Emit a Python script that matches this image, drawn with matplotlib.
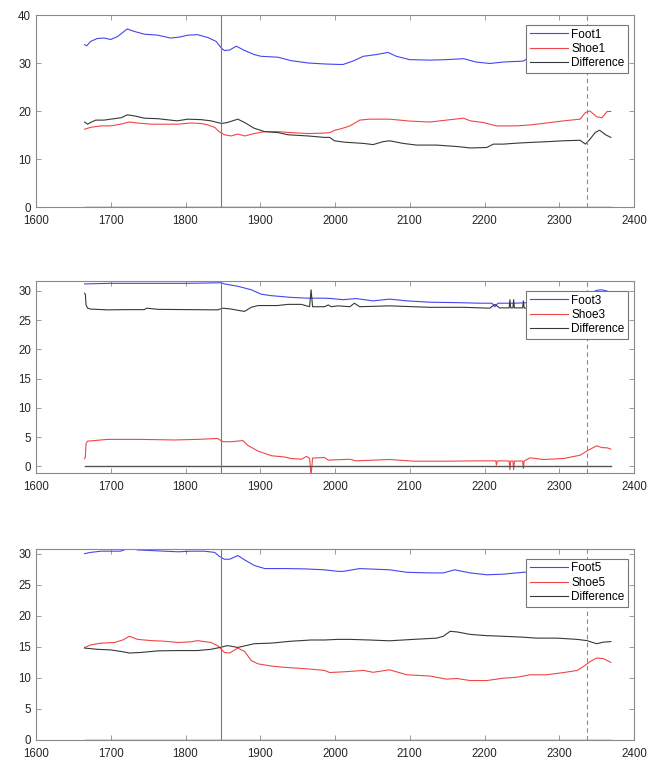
import matplotlib
matplotlib.use("Agg")
import matplotlib.pyplot as plt

plt.rcParams['font.family'] = ['Liberation Sans', 'DejaVu Sans']

# ---- panel 1 ----
x_foot1 = [1665, 1668, 1673, 1682, 1691, 1700, 1709, 1718, 1722, 1731, 1745, 1763, 1780, 1792, 1803, 1816,
           1830, 1841, 1848, 1852, 1859, 1868, 1879, 1892, 1901, 1924, 1941, 1964, 1986, 2004, 2011, 2024,
           2038, 2055, 2071, 2082, 2100, 2127, 2149, 2172, 2189, 2207, 2225, 2252, 2259, 2283, 2306, 2328,
           2341, 2350, 2355, 2369]
foot1 = [33.8, 33.6, 34.5, 35.1, 35.2, 34.9, 35.5, 36.6, 37.1, 36.6, 36.0, 35.8, 35.2, 35.4, 35.8, 35.9,
         35.3, 34.5, 33.1, 32.6, 32.7, 33.5, 32.6, 31.75, 31.4, 31.2, 30.5, 30.0, 29.8, 29.7, 29.7, 30.4,
         31.4, 31.75, 32.2, 31.4, 30.7, 30.6, 30.7, 30.9, 30.2, 29.9, 30.2, 30.4, 31.1, 31.1, 31.75, 32.2,
         33.3, 34.5, 34.8, 34.4]
x_shoe1 = [1665, 1673, 1687, 1700, 1713, 1725, 1736, 1754, 1772, 1790, 1807, 1821, 1830, 1839, 1845, 1852,
           1861, 1870, 1879, 1892, 1906, 1924, 1941, 1964, 1986, 1993, 2000, 2008, 2020, 2033, 2046, 2073,
           2100, 2127, 2149, 2172, 2181, 2198, 2216, 2243, 2261, 2283, 2306, 2328, 2335, 2341, 2350, 2357,
           2364, 2369]
shoe1 = [16.2, 16.6, 16.9, 16.9, 17.25, 17.7, 17.5, 17.25, 17.25, 17.25, 17.5, 17.4, 17.1, 16.6, 15.7, 15.05,
         14.8, 15.2, 14.8, 15.3, 15.7, 15.7, 15.5, 15.3, 15.4, 15.5, 16.0, 16.3, 16.9, 18.1, 18.3, 18.3,
         17.9, 17.7, 18.1, 18.5, 17.95, 17.6, 16.9, 16.9, 17.1, 17.5, 17.95, 18.3, 19.7, 20.0, 18.8, 18.6,
         19.9, 19.9]
x_diff1 = [1665, 1669, 1673, 1680, 1691, 1700, 1714, 1722, 1731, 1745, 1763, 1780, 1789, 1803, 1821, 1834,
           1848, 1856, 1870, 1879, 1892, 1906, 1924, 1937, 1964, 1986, 1993, 1999, 2013, 2038, 2051, 2064,
           2073, 2091, 2109, 2136, 2163, 2181, 2203, 2212, 2225, 2243, 2261, 2283, 2306, 2328, 2335, 2341,
           2348, 2354, 2362, 2369]
diff1 = [17.7, 17.25, 17.6, 18.1, 18.1, 18.3, 18.6, 19.2, 19.0, 18.5, 18.4, 18.1, 17.95, 18.3, 18.2, 17.95,
         17.4, 17.6, 18.3, 17.6, 16.4, 15.7, 15.5, 15.05, 14.8, 14.5, 14.5, 13.8, 13.5, 13.25, 13.0, 13.6,
         13.8, 13.25, 12.9, 12.9, 12.6, 12.3, 12.4, 13.1, 13.1, 13.3, 13.45, 13.6, 13.8, 13.9, 13.1, 14.1,
         15.5, 16.0, 15.05, 14.5]

# ---- panel 2 ----
x_foot3 = [1665, 1700, 1750, 1800, 1848, 1852, 1870, 1888, 1901, 1914, 1941, 1964, 1986, 1995, 2011, 2028,
           2051, 2073, 2096, 2127, 2163, 2194, 2210, 2214, 2218, 2240, 2261, 2300, 2328, 2340, 2350, 2357, 2369]
foot3 = [31.2, 31.3, 31.3, 31.3, 31.4, 31.2, 30.8, 30.2, 29.45, 29.2, 28.9, 28.76, 28.76, 28.7, 28.5, 28.7,
         28.3, 28.6, 28.3, 28.07, 28.0, 27.9, 27.9, 27.3, 27.9, 27.9, 28.0, 28.1, 28.6, 29.5, 30.1, 30.2, 29.8]
x_shoe3 = [1665, 1666, 1667, 1669, 1696, 1740, 1785, 1816, 1843, 1850, 1861, 1877, 1883, 1897, 1915, 1932,
           1941, 1955, 1962, 1966, 1968, 1970, 1986, 1991, 2000, 2020, 2028, 2073, 2105, 2149, 2194, 2212,
           2215, 2216, 2217, 2233, 2234, 2235, 2238, 2239, 2240, 2251, 2252, 2253, 2261, 2279, 2306, 2328,
           2339, 2350, 2357, 2364, 2369]
shoe3 = [1.3, 1.6, 3.9, 4.3, 4.6, 4.6, 4.5, 4.6, 4.76, 4.2, 4.2, 4.4, 3.6, 2.6, 1.8, 1.6,
         1.33, 1.2, 1.7, 1.33, -1.6, 1.4, 1.5, 1.05, 1.1, 1.2, 0.93, 1.16, 0.87, 0.87, 0.93, 0.93,
         0.93, 0.2, 0.93, 0.9, -0.6, 0.9, 0.9, -0.6, 0.9, 0.9, -0.4, 0.9, 1.45, 1.16, 1.33, 1.9,
         2.76, 3.5, 3.2, 3.16, 2.93]
x_diff3 = [1665, 1666, 1667, 1669, 1673, 1696, 1718, 1745, 1748, 1763, 1808, 1843, 1850, 1861, 1874, 1879,
           1888, 1897, 1923, 1937, 1955, 1966, 1968, 1970, 1986, 1991, 1995, 2004, 2020, 2026, 2033, 2073,
           2105, 2127, 2172, 2207, 2214, 2220, 2233, 2234, 2235, 2238, 2239, 2240, 2251, 2252, 2253, 2261,
           2300, 2340, 2369]
diff3 = [29.6, 29.4, 27.6, 27.05, 26.9, 26.76, 26.8, 26.8, 27.05, 26.85, 26.8, 26.76, 27.05, 26.9, 26.6, 26.5,
         27.2, 27.5, 27.5, 27.7, 27.7, 27.3, 30.2, 27.3, 27.3, 27.6, 27.3, 27.45, 27.3, 27.9, 27.3, 27.45,
         27.3, 27.2, 27.2, 27.05, 27.7, 27.1, 27.1, 28.5, 27.1, 27.1, 28.5, 27.1, 27.1, 28.3, 27.1, 26.9,
         26.8, 26.7, 26.9]

# ---- panel 3 ----
x_foot5 = [1665, 1673, 1687, 1700, 1713, 1725, 1736, 1754, 1772, 1790, 1807, 1825, 1839, 1845, 1852, 1859,
           1870, 1879, 1892, 1906, 1933, 1959, 1986, 2004, 2011, 2033, 2073, 2096, 2127, 2145, 2160, 2181,
           2203, 2225, 2252, 2283, 2305, 2328, 2341, 2350, 2369]
foot5 = [30.0, 30.2, 30.4, 30.4, 30.4, 30.9, 30.6, 30.5, 30.4, 30.3, 30.4, 30.4, 30.2, 29.6, 29.1, 29.1,
         29.7, 29.0, 28.1, 27.6, 27.6, 27.55, 27.4, 27.15, 27.15, 27.6, 27.4, 27.0, 26.9, 26.9, 27.4, 26.9,
         26.6, 26.7, 27.0, 27.1, 27.3, 27.6, 28.6, 28.7, 28.4]
x_shoe5 = [1665, 1673, 1687, 1705, 1716, 1725, 1736, 1754, 1772, 1790, 1807, 1816, 1834, 1843, 1852, 1859,
           1870, 1879, 1888, 1897, 1915, 1932, 1950, 1968, 1986, 1993, 2015, 2038, 2051, 2073, 2096, 2127,
           2149, 2163, 2181, 2203, 2225, 2243, 2261, 2283, 2306, 2324, 2332, 2341, 2350, 2359, 2369]
shoe5 = [14.9, 15.3, 15.6, 15.7, 16.1, 16.7, 16.2, 16.0, 15.9, 15.7, 15.8, 16.0, 15.7, 15.2, 14.1, 14.0,
         14.8, 14.25, 12.8, 12.26, 11.9, 11.7, 11.56, 11.4, 11.2, 10.86, 11.0, 11.2, 10.9, 11.3, 10.5, 10.3,
         9.8, 9.9, 9.57, 9.57, 9.95, 10.1, 10.5, 10.5, 10.86, 11.2, 11.8, 12.6, 13.2, 13.1, 12.5]
x_diff5 = [1665, 1682, 1700, 1714, 1725, 1741, 1763, 1790, 1816, 1834, 1848, 1856, 1870, 1881, 1892, 1915,
           1941, 1968, 1986, 2004, 2020, 2046, 2073, 2105, 2136, 2145, 2154, 2163, 2181, 2203, 2225, 2252,
           2270, 2297, 2324, 2337, 2350, 2359, 2369]
diff5 = [14.8, 14.6, 14.5, 14.25, 14.0, 14.1, 14.35, 14.4, 14.4, 14.6, 14.95, 15.2, 14.9, 15.2, 15.5, 15.6,
         15.9, 16.1, 16.1, 16.2, 16.2, 16.1, 15.97, 16.2, 16.4, 16.7, 17.5, 17.4, 17.0, 16.8, 16.7, 16.55,
         16.4, 16.4, 16.2, 16.0, 15.5, 15.75, 15.85]

event_solid = 1848
event_dashed = 2337

panels = [
    (x_foot1, foot1, x_shoe1, shoe1, x_diff1, diff1, 'Foot1', 'Shoe1', (0, 40), [0, 10, 20, 30, 40]),
    (x_foot3, foot3, x_shoe3, shoe3, x_diff3, diff3, 'Foot3', 'Shoe3', (-1.15, 31.7), [0, 5, 10, 15, 20, 25, 30]),
    (x_foot5, foot5, x_shoe5, shoe5, x_diff5, diff5, 'Foot5', 'Shoe5', (0, 30.75), [0, 5, 10, 15, 20, 25, 30]),
]

W, H = 656, 762
fig = plt.figure(figsize=(W / 100, H / 100), dpi=100)
# axes boxes in pixels: left, top, right, bottom
boxes = [(36, 15, 634, 207), (36, 281, 634, 473), (36, 549, 634, 740)]

for (xf, f, xs, s, xd, d, lf, ls, ylim, yt), (l, t, r, b) in zip(panels, boxes):
    ax = fig.add_axes([l / W, 1 - b / H, (r - l) / W, (b - t) / H])
    ax.plot(xf, f, color='#4646f0', lw=0.8, label=lf)
    ax.plot(xs, s, color='#f04646', lw=0.8, label=ls)
    ax.plot(xd, d, color='#383838', lw=0.8, label='Difference')
    ax.plot([xf[0], xf[-1]], [0, 0], color='#555555', lw=1.0)
    ax.axvline(event_solid, color='#7a7a7a', lw=0.8)
    ax.axvline(event_dashed, color='#8a8a8a', lw=0.8, ls=(0, (4, 3)))
    ax.set_xlim(1600, 2400)
    ax.set_ylim(*ylim)
    ax.set_xticks(range(1600, 2401, 100))
    ax.set_yticks(yt)
    ax.tick_params(direction='in', length=3.5, width=0.6, colors='#8a8a8a',
                   labelcolor='#262626', labelsize=8.3, top=True, right=True)
    ax.tick_params(axis='x', pad=6)
    ax.tick_params(axis='y', pad=3.5)
    for sp in ax.spines.values():
        sp.set_color('#8a8a8a')
        sp.set_linewidth(0.8)
    leg = ax.legend(loc='upper right', bbox_to_anchor=(1 - 6 / 598, 1 - 10 / 192),
                    borderaxespad=0, fontsize=8.5, fancybox=False, framealpha=1,
                    edgecolor='#777777', handlelength=3.2, handletextpad=0.3,
                    labelspacing=0.2, borderpad=0.3)
    leg.get_frame().set_linewidth(0.8)

fig.savefig('out.png', dpi=100)
